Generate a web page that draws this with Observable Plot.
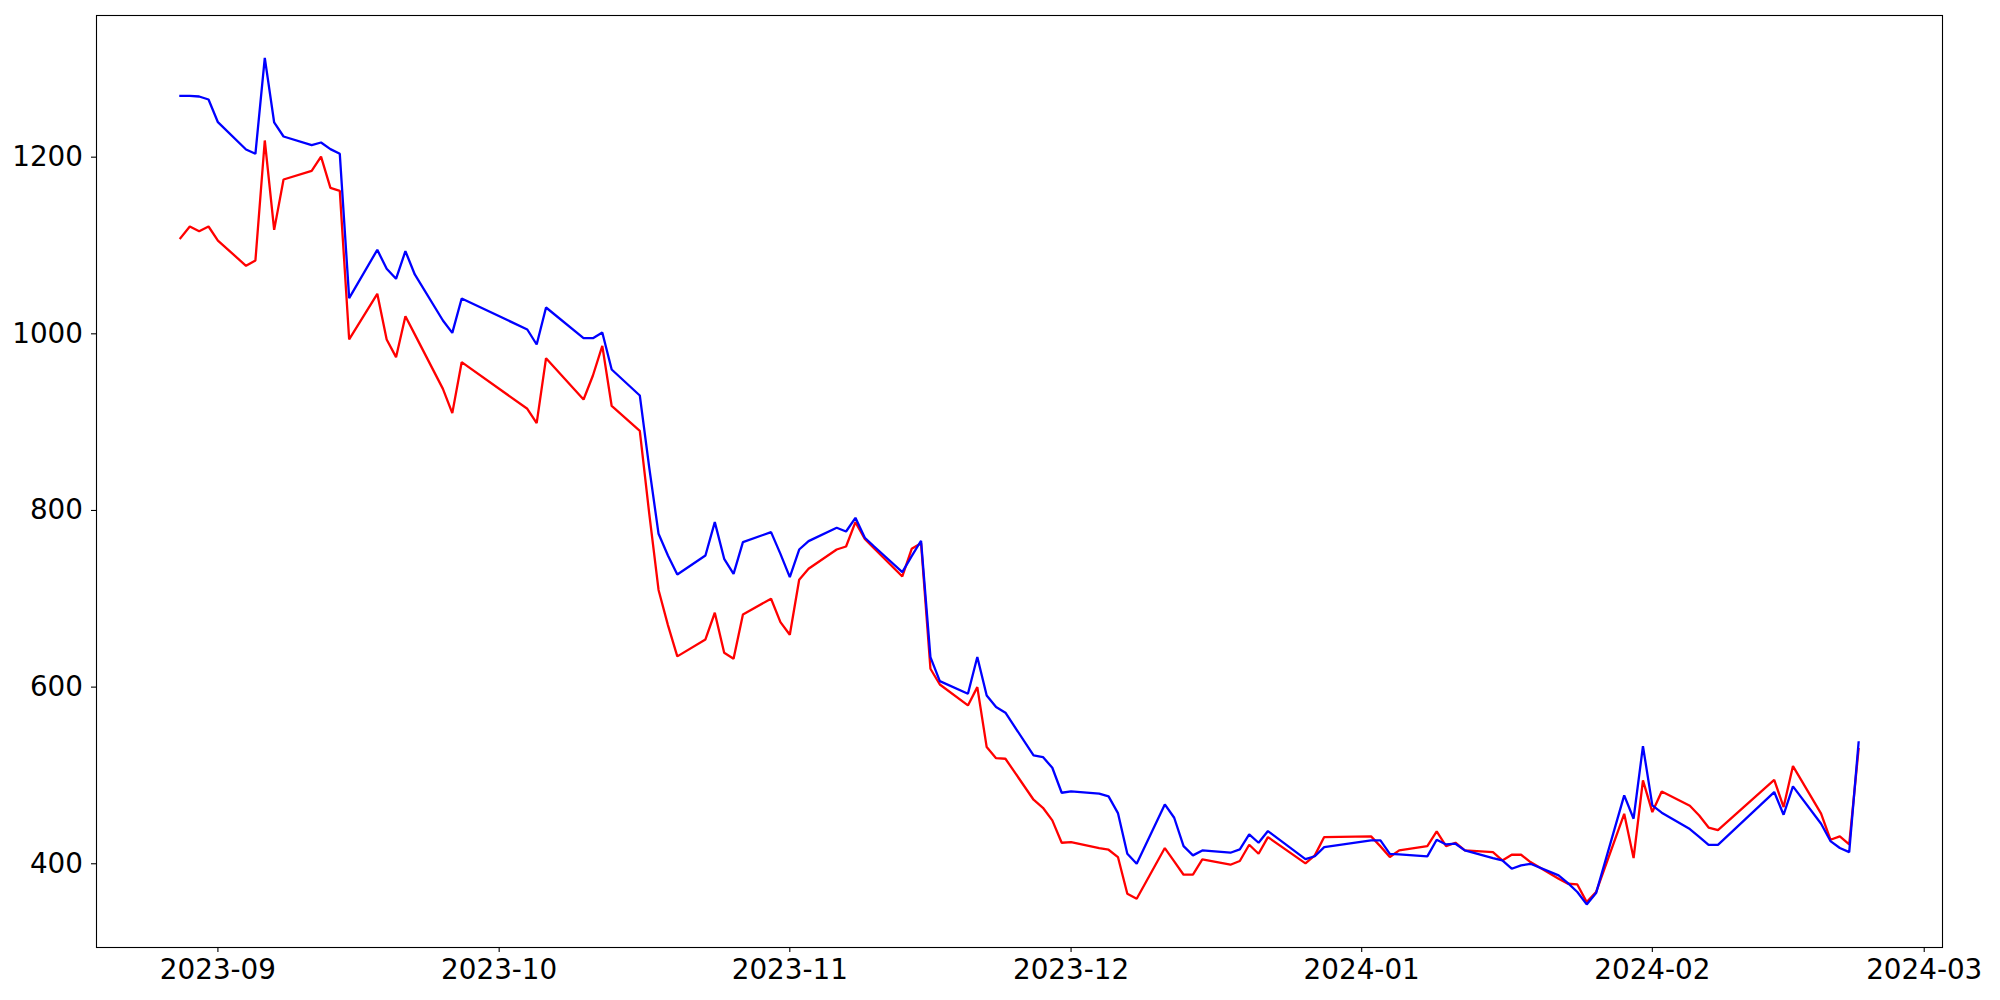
<!DOCTYPE html>
<html>
<head>
<meta charset="utf-8">
<script src="https://cdn.jsdelivr.net/npm/d3@7"></script>
<script src="https://cdn.jsdelivr.net/npm/@observablehq/plot@0.6"></script>
<style>
  html, body { margin: 0; padding: 0; background: white; }
  #chart svg { display: block; }
</style>
</head>
<body>
<div id="chart"></div>
<script>
const dates = [
  "2023-08-28","2023-08-29","2023-08-30","2023-08-31","2023-09-01",
  "2023-09-04","2023-09-05","2023-09-06","2023-09-07","2023-09-08",
  "2023-09-11","2023-09-12","2023-09-13","2023-09-14","2023-09-15",
  "2023-09-18","2023-09-19","2023-09-20","2023-09-21","2023-09-22",
  "2023-09-25","2023-09-26","2023-09-27",
  "2023-10-04","2023-10-05","2023-10-06",
  "2023-10-10","2023-10-11","2023-10-12","2023-10-13",
  "2023-10-16","2023-10-17","2023-10-18","2023-10-19","2023-10-20",
  "2023-10-23","2023-10-24","2023-10-25","2023-10-26","2023-10-27",
  "2023-10-30","2023-10-31","2023-11-01","2023-11-02","2023-11-03",
  "2023-11-06","2023-11-07","2023-11-08","2023-11-09","2023-11-10",
  "2023-11-13","2023-11-14","2023-11-15","2023-11-16","2023-11-17",
  "2023-11-20","2023-11-21","2023-11-22","2023-11-23","2023-11-24",
  "2023-11-27","2023-11-28","2023-11-29","2023-11-30","2023-12-01",
  "2023-12-04","2023-12-05","2023-12-06","2023-12-07","2023-12-08",
  "2023-12-11","2023-12-12","2023-12-13","2023-12-14","2023-12-15",
  "2023-12-18","2023-12-19","2023-12-20","2023-12-21","2023-12-22",
  "2023-12-26","2023-12-27","2023-12-28",
  "2024-01-02","2024-01-03","2024-01-04","2024-01-05",
  "2024-01-08","2024-01-09","2024-01-10","2024-01-11","2024-01-12",
  "2024-01-15","2024-01-16","2024-01-17","2024-01-18","2024-01-19",
  "2024-01-22","2024-01-23","2024-01-24","2024-01-25","2024-01-26",
  "2024-01-29","2024-01-30","2024-01-31","2024-02-01","2024-02-02",
  "2024-02-05","2024-02-06","2024-02-07","2024-02-08",
  "2024-02-14","2024-02-15","2024-02-16",
  "2024-02-19","2024-02-20","2024-02-21","2024-02-22","2024-02-23"
];

const blueValues = [
  1269.4,1269.4,1268.7,1265.3,1239.6,
  1208.7,1203.8,1312.5,1239.3,1223.4,
  1213.6,1216.6,1209.1,1203.8,1040.4,
  1095.1,1073.6,1062.3,1093.6,1067.2,
  1015.1,1001.1,1040.0,
  1004.9,987.9,1029.8,
  995.1,995.1,1001.5,959.6,
  930.2,849.0,773.6,749.0,727.5,
  749.0,786.8,745.3,728.3,764.1,
  775.5,750.9,724.5,755.8,765.3,
  780.4,776.2,791.7,769.1,759.2,
  730.2,748.3,765.7,634.0,606.8,
  592.5,634.0,590.6,577.4,571.0,
  522.7,520.8,508.7,480.4,481.9,
  479.3,476.3,457.4,411.3,400.0,
  467.2,452.1,420.0,409.5,415.1,
  412.5,416.3,433.2,423.8,437.0,
  405.2,408.5,418.9,
  426.4,426.4,411.3,410.6,
  408.3,427.2,421.9,422.7,415.1,
  406.4,403.8,394.4,398.1,400.0,
  386.8,378.1,368.0,354.0,366.8,
  477.4,451.0,533.2,466.1,457.8,
  439.3,430.5,421.3,421.3,
  481.2,455.5,487.6,
  445.3,425.7,417.8,413.2,537.4
];

const redValues = [
  1108.3,1121.5,1116.2,1121.5,1105.6,
  1077.0,1083.0,1218.9,1117.7,1174.7,
  1184.5,1200.7,1165.3,1161.9,993.6,
  1045.3,993.6,973.6,1020.0,999.4,
  937.7,910.2,967.9,
  915.1,898.9,972.4,
  925.6,952.8,986.4,918.3,
  890.2,797.0,710.0,670.2,634.8,
  654.0,684.2,638.9,632.1,682.3,
  700.1,673.6,659.3,721.6,734.0,
  755.8,759.2,786.8,767.9,757.0,
  725.3,756.6,763.0,620.8,603.0,
  579.3,600.0,532.1,519.6,518.9,
  472.5,463.4,449.1,423.8,424.6,
  417.8,415.9,407.6,366.1,360.4,
  417.8,402.7,387.6,387.6,404.9,
  398.9,403.1,421.5,411.3,430.2,
  400.4,409.5,430.2,
  431.0,419.7,407.6,415.1,
  420.0,436.6,420.0,423.8,415.1,
  413.2,403.8,410.2,410.2,401.9,
  383.0,377.4,376.6,356.6,367.9,
  456.6,406.4,494.4,458.5,481.9,
  465.7,454.7,441.0,438.0,
  495.1,464.2,510.6,
  456.7,427.2,431.0,421.9,530.0
];

const xTickLabels = ["2023-09","2023-10","2023-11","2023-12","2024-01","2024-02","2024-03"];
const yTicks = [400, 600, 800, 1000, 1200];

const parseDay = d3.utcParse("%Y-%m-%d");
const parseMonth = d3.utcParse("%Y-%m");
const fmtMonth = d3.utcFormat("%Y-%m");

const blueData = dates.map((d, i) => ({date: parseDay(d), value: blueValues[i]}));
const redData = dates.map((d, i) => ({date: parseDay(d), value: redValues[i]}));

// matplotlib-style 5% margins around the data range
const t0 = parseDay(dates[0]).getTime();
const t1 = parseDay(dates[dates.length - 1]).getTime();
const pad = (t1 - t0) * 0.05;
const xDomain = [new Date(t0 - pad), new Date(t1 + pad)];

const chart = Plot.plot({
  width: 2000,
  height: 1000,
  marginLeft: 96,
  marginRight: 58,
  marginTop: 15,
  marginBottom: 53,
  style: {fontFamily: "'DejaVu Sans', sans-serif", fontSize: "27.8px", background: "white", color: "black"},
  x: {type: "utc", domain: xDomain},
  y: {domain: [305.2, 1360.4]},
  marks: [
    Plot.axisX({
      ticks: xTickLabels.map(parseMonth),
      tickFormat: fmtMonth,
      tickSize: 5,
      tickPadding: 7,
      label: null,
      fontSize: 27.8,
      strokeWidth: 1.1
    }),
    Plot.axisY({
      ticks: yTicks,
      tickFormat: d => String(d),
      tickSize: 5,
      tickPadding: 8.5,
      label: null,
      fontSize: 27.8,
      strokeWidth: 1.1
    }),
    Plot.line(redData, {x: "date", y: "value", stroke: "#ff0000", strokeWidth: 2.3, strokeLinejoin: "miter", strokeLinecap: "square"}),
    Plot.line(blueData, {x: "date", y: "value", stroke: "#0000ff", strokeWidth: 2.3, strokeLinejoin: "miter", strokeLinecap: "square"}),
    Plot.frame({stroke: "black", strokeWidth: 1.1})
  ]
});

document.getElementById("chart").appendChild(chart);
</script>
</body>
</html>
